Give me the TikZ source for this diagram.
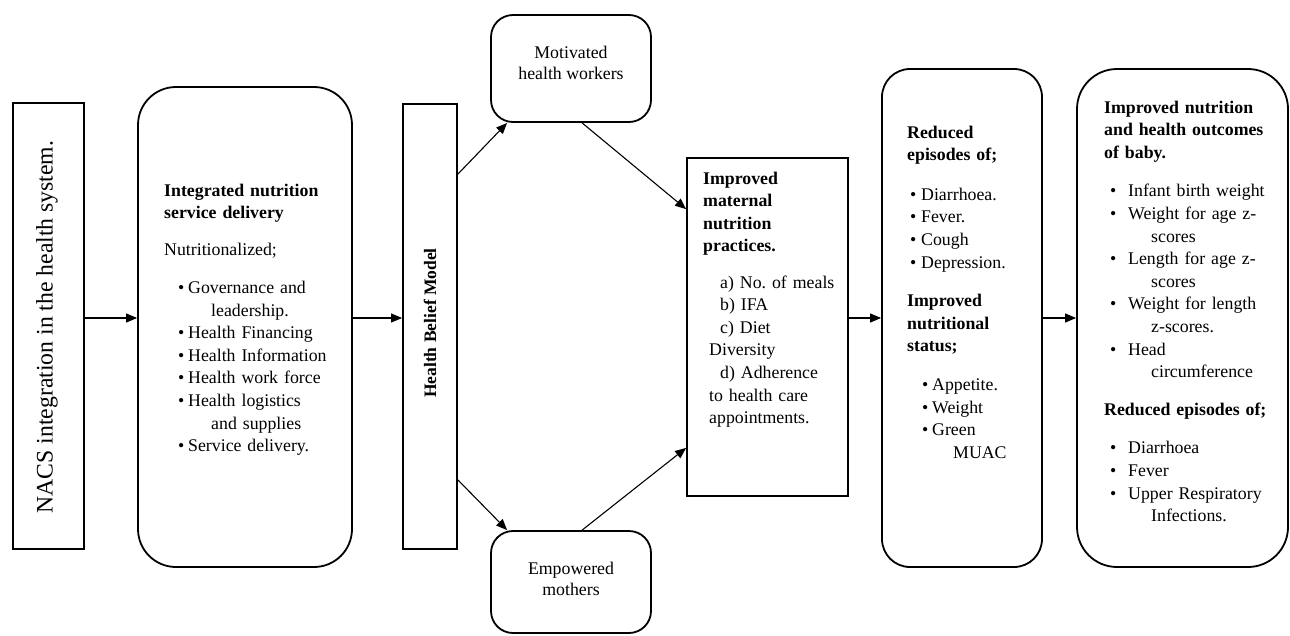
\documentclass[tikz,border=0pt]{standalone}
\usepackage{fontspec}
\setmainfont{Liberation Serif}
\usetikzlibrary{arrows.meta,calc}
\frenchspacing
\newcommand\bl[2]{\hspace*{#1pt}\makebox[#2pt][l]{\textbullet}}
\tikzset{
 box/.style={draw, line width=1.8pt, inner sep=0pt},
 arr/.style={line width=1.1pt, -{Triangle[length=11pt,width=9pt]}},
 txt/.style={anchor=base west, inner sep=0pt, align=left, text width=#1pt, font=\fontsize{17.8}{22.6}\selectfont},
 ctxt/.style={inner sep=0pt, align=center, font=\fontsize{17.8}{21}\selectfont},
}
\begin{document}
\begin{tikzpicture}[x=1pt,y=-1pt]
\useasboundingbox (0,0) rectangle (1290,635);
% boxes
\node[box, minimum width=71pt, minimum height=446pt] (nacs) at (48.5,326) {};
\node[box, rounded corners=38pt, minimum width=214pt, minimum height=480pt] (integ) at (245,327) {};
\node[box, minimum width=54pt, minimum height=445pt] (hbm) at (430,326.5) {};
\node[box, rounded corners=22pt, minimum width=160pt, minimum height=107pt] (mot) at (571,68.5) {};
\node[box, rounded corners=22pt, minimum width=160pt, minimum height=102pt] (emp) at (571,582) {};
\node[box, minimum width=161pt, minimum height=338pt] (mat) at (767.5,327) {};
\node[box, rounded corners=28pt, minimum width=160pt, minimum height=498pt] (red) at (962,318) {};
\node[box, rounded corners=40pt, minimum width=211pt, minimum height=498pt] (baby) at (1182.5,318) {};
% texts
\node[rotate=90, inner sep=0pt, font=\fontsize{23.7}{28}\selectfont] (nacs-t) at (47,327) {NACS integration in the health system.};
\node[rotate=90, inner sep=0pt, font=\bfseries\fontsize{17.5}{21}\selectfont] (hbm-t) at (430,323) {Health Belief Model};
\node[ctxt] (mot-t) at (571,63) {Motivated\\health workers};
\node[ctxt] (emp-t) at (571,579) {Empowered\\mothers};
\node[txt=200] (integ-t) at (164,196) {\textbf{Integrated nutrition}\\\textbf{service delivery}\\[14.4pt]
 Nutritionalized;\\[15.2pt]
 \bl{14}{10}Governance and\\
 \hspace*{47pt}leadership.\\
 \bl{14}{10}Health Financing\\
 \bl{14}{10}Health Information\\
 \bl{14}{10}Health work force\\
 \bl{14}{10}Health logistics\\
 \hspace*{47pt}and supplies\\
 \bl{14}{10}Service delivery.};
\node[txt=150] (mat-t) at (703,184) {\textbf{Improved}\\\textbf{maternal}\\\textbf{nutrition}\\\textbf{practices.}\\[13.6pt]
 \hspace*{17pt}a) No.\ of meals\\
 \hspace*{17pt}b) IFA\\
 \hspace*{17pt}c) Diet\\
 \hspace*{6pt}Diversity\\
 \hspace*{17pt}d) Adherence\\
 \hspace*{6pt}to health care\\
 \hspace*{6pt}appointments.};
\node[txt=140] (red-t) at (907,138) {\textbf{Reduced}\\\textbf{episodes of;}\\[17pt]
 \bl{3}{11}Diarrhoea.\\
 \bl{3}{11}Fever.\\
 \bl{3}{11}Cough\\
 \bl{3}{11}Depression.\\[16pt]
 \textbf{Improved}\\\textbf{nutritional}\\\textbf{status;}\\[16pt]
 \bl{15}{10}Appetite.\\
 \bl{15}{10}Weight\\
 \bl{15}{10}Green\\
 \hspace*{46pt}MUAC};
\node[txt=175] (baby-t) at (1104,113) {\textbf{Improved nutrition}\\\textbf{and health outcomes}\\\textbf{of baby.}\\[16pt]
 \bl{6}{18}Infant birth weight\\
 \bl{6}{18}\makebox[137pt][s]{Weight for age z-}\\
 \hspace*{47pt}scores\\
 \bl{6}{18}\makebox[137pt][s]{Length for age z-}\\
 \hspace*{47pt}scores\\
 \bl{6}{18}\makebox[137pt][s]{Weight for length}\\
 \hspace*{47pt}z-scores.\\
 \bl{6}{18}Head\\
 \hspace*{47pt}circumference\\[15pt]
 \textbf{Reduced episodes of;}\\[16pt]
 \bl{6}{18}Diarrhoea\\
 \bl{6}{18}Fever\\
 \bl{6}{18}Upper Respiratory\\
 \hspace*{47pt}Infections.};
% connectors
\coordinate (ar) at (0,318);
\draw[arr] (nacs.east |- ar) -- (integ.west |- ar);
\draw[arr] (integ.east |- ar) -- (hbm.west |- ar);
\draw[arr] ($(hbm.north east)+(0,71)$) -- ($(mot.south west)+(17,0)$);
\draw[arr] ($(hbm.south east)+(0,-70)$) -- ($(emp.north west)+(17,0)$);
\draw[arr] ($(mot.south west)+(92,0)$) -- ($(mat.north west)+(0,52)$);
\draw[arr] ($(emp.north west)+(92,0)$) -- ($(mat.south west)+(0,-49)$);
\draw[arr] (mat.east |- ar) -- (red.west |- ar);
\draw[arr] (red.east |- ar) -- (baby.west |- ar);
\end{tikzpicture}
\end{document}
